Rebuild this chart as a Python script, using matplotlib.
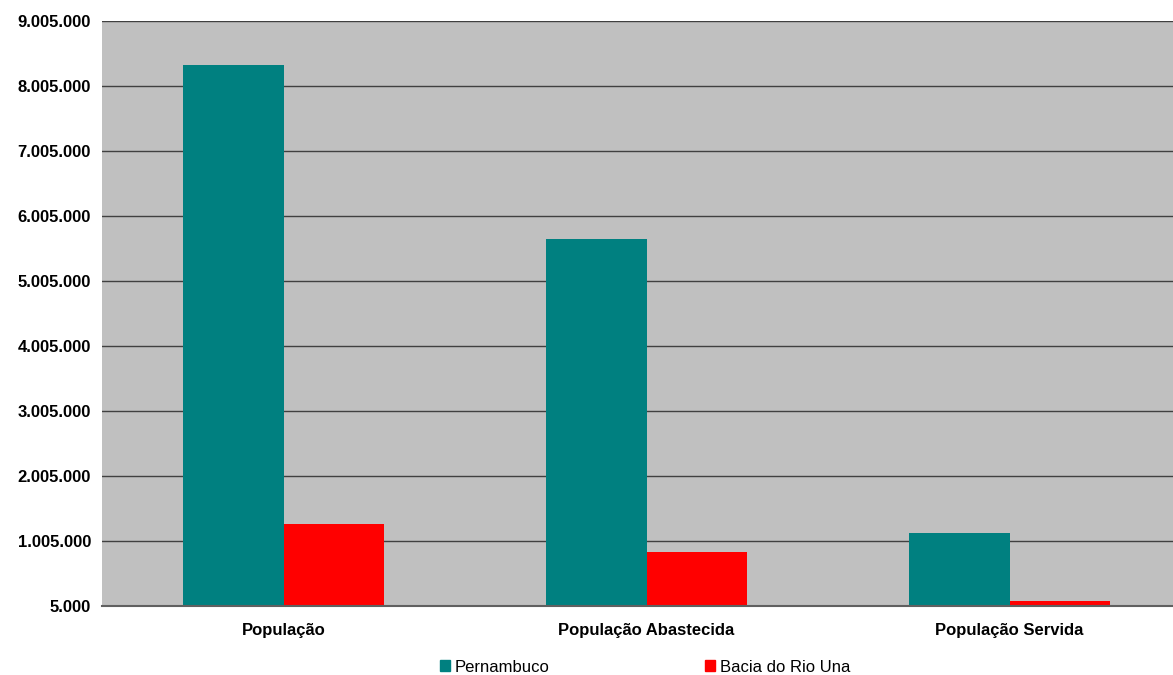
import numpy as np
import matplotlib
matplotlib.use("Agg")
import matplotlib.pyplot as plt
from matplotlib.patches import Patch
from matplotlib.ticker import FuncFormatter

plt.rcParams['font.family'] = ['Liberation Sans', 'DejaVu Sans']

# Dados
categorias = ["População", "População Abastecida", "População Servida"]
pernambuco = [8330000, 5650000, 1128000]
bacia_una = [1267000, 836000, 82000]
series = ["Pernambuco", "Bacia do Rio Una"]
yticks = np.arange(5000, 9005001, 1000000)

cor_pe = "#008080"
cor_una = "#FF0000"

fig = plt.figure(figsize=(11.73, 6.75), dpi=100)
ax = fig.add_axes([102 / 1173, 1 - 606 / 675, 1089 / 1173, 585 / 675])
ax.set_facecolor("#C0C0C0")

x = np.arange(len(categorias))
w = 0.278
ax.bar(x - w / 2, pernambuco, width=w, color=cor_pe, zorder=3)
ax.bar(x + w / 2, bacia_una, width=w, color=cor_una, zorder=3)

ax.set_xlim(-0.5, len(categorias) - 0.5)
ax.set_ylim(5000, 9005000)
ax.set_yticks(yticks)
ax.yaxis.set_major_formatter(FuncFormatter(lambda v, p: f"{int(v):,}".replace(",", ".")))
ax.set_xticks(x)
ax.set_xticklabels(categorias, fontweight="bold", fontsize=12)
for lbl in ax.get_yticklabels():
    lbl.set_fontweight("bold")
    lbl.set_fontsize(12)

ax.grid(axis="y", color="#404040", linewidth=1, zorder=1)
ax.tick_params(axis="both", length=0, pad=8, colors="black")
ax.tick_params(axis="x", pad=12)
for s in ["top", "right", "left"]:
    ax.spines[s].set_visible(False)
ax.spines["bottom"].set_color("#606060")
ax.spines["bottom"].set_linewidth(1.5)
ax.spines["bottom"].set_zorder(4)

handles = [Patch(color=cor_pe, label=series[0]), Patch(color=cor_una, label=series[1])]
fig.legend(handles=handles, loc="center", bbox_to_anchor=(645 / 1173, 1 - 667 / 675),
           ncol=2, frameon=False, fontsize=12, handlelength=0.6, handleheight=0.6,
           handletextpad=0.3, columnspacing=9.3)

fig.savefig("out.png", dpi=100)
